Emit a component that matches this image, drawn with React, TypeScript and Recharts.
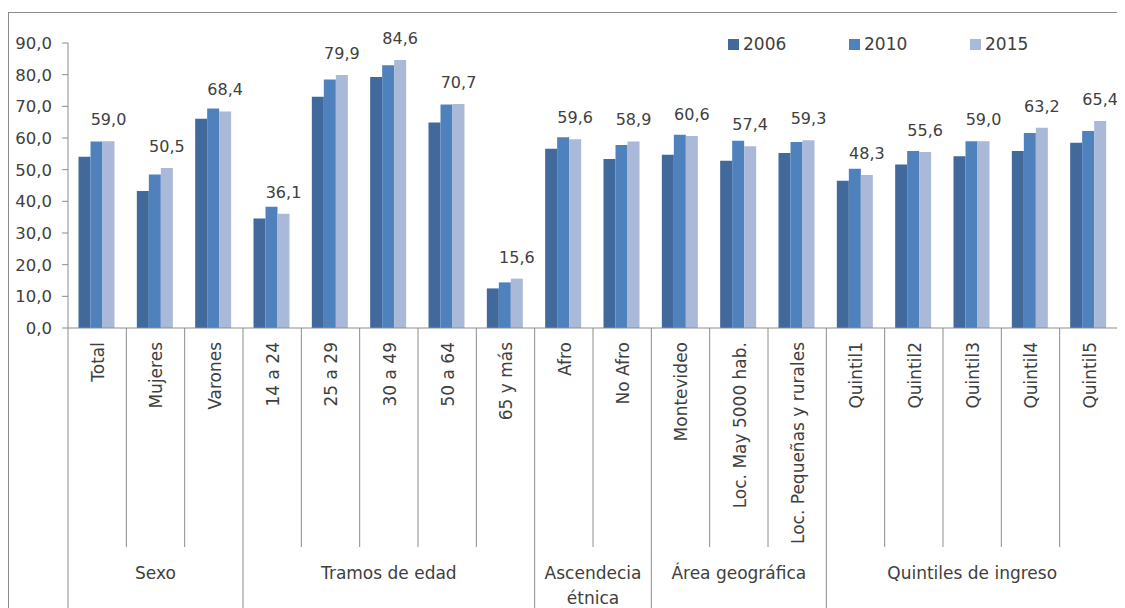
import React from 'react';
import { BarChart, Bar, XAxis, YAxis, Legend, LabelList } from 'recharts';

const categories = [
  'Total', 'Mujeres', 'Varones',
  '14 a 24', '25 a 29', '30 a 49', '50 a 64', '65 y más',
  'Afro', 'No Afro',
  'Montevideo', 'Loc. May 5000 hab.', 'Loc. Pequeñas y rurales',
  'Quintil1', 'Quintil2', 'Quintil3', 'Quintil4', 'Quintil5',
];

const groupNames = [['Sexo'], ['Tramos de edad'], ['Ascendecia', 'étnica'], ['Área geográfica'], ['Quintiles de ingreso']];
const groupSizes = [3, 5, 2, 3, 5];

const series2006 = [54.1, 43.3, 66.1, 34.6, 73.0, 79.3, 64.9, 12.5, 56.6, 53.4, 54.7, 52.8, 55.3, 46.5, 51.6, 54.2, 55.9, 58.5];
const series2010 = [58.9, 48.5, 69.3, 38.3, 78.5, 83.0, 70.6, 14.4, 60.2, 57.8, 61.0, 59.1, 58.7, 50.3, 55.9, 59.0, 61.6, 62.2];
const series2015 = [59.0, 50.5, 68.4, 36.1, 79.9, 84.6, 70.7, 15.6, 59.6, 58.9, 60.6, 57.4, 59.3, 48.3, 55.6, 59.0, 63.2, 65.4];

const yTicks = [0, 10, 20, 30, 40, 50, 60, 70, 80, 90];

const seriesInfo = [
  { key: 'y2006', name: '2006', color: '#41699C' },
  { key: 'y2010', name: '2010', color: '#4F81BD' },
  { key: 'y2015', name: '2015', color: '#A9B9D7' },
];

const data = categories.map((name, i) => ({
  name,
  y2006: series2006[i],
  y2010: series2010[i],
  y2015: series2015[i],
}));

// layout
const W = 1117;
const H = 600;
const M = { top: 35, right: 7, bottom: 0, left: 0 };
const Y_W = 60;
const X_H = 280;
const PLOT_W = W - M.left - M.right - Y_W;
const AXIS_Y = H - X_H;
const BAND = PLOT_W / categories.length;
const FONT = '"DejaVu Sans", sans-serif';
const GRAY = '#8c8c8c';
const TEXT = '#404040';

const groupStarts: number[] = [];
groupSizes.reduce((acc, n) => {
  groupStarts.push(acc);
  return acc + n;
}, 0);

const fmt = (v: number) => v.toFixed(1).replace('.', ',');

const CategoryTick = (props: any) => {
  const { x, index, payload } = props;
  const left = x - BAND / 2;
  const g = groupStarts.indexOf(index);
  const isStart = g >= 0;
  const last = index === categories.length - 1;
  return (
    <g>
      <line x1={left} y1={AXIS_Y} x2={left} y2={isStart ? H : 539} stroke={GRAY} />
      {last && <line x1={left + BAND} y1={AXIS_Y} x2={left + BAND} y2={H} stroke={GRAY} />}
      <text
        transform={`translate(${x + 1},${AXIS_Y + 14}) rotate(-90)`}
        textAnchor="end"
        dy="0.35em"
        fontFamily={FONT}
        fontSize={17}
        fill={TEXT}
      >
        {payload.value}
      </text>
      {isStart &&
        groupNames[g].map((line, k) => (
          <text
            key={k}
            x={left + (groupSizes[g] * BAND) / 2}
            y={565 + k * 25}
            textAnchor="middle"
            dy="0.35em"
            fontFamily={FONT}
            fontSize={17}
            fill={TEXT}
          >
            {line}
          </text>
        ))}
    </g>
  );
};

const LegendContent = () => (
  <div style={{ display: 'flex', fontFamily: FONT, fontSize: 17, color: TEXT }}>
    {seriesInfo.map((s) => (
      <div key={s.key} style={{ display: 'flex', alignItems: 'center', width: 121 }}>
        <span style={{ width: 11, height: 11, background: s.color, marginRight: 4, display: 'inline-block' }} />
        <span>{s.name}</span>
      </div>
    ))}
  </div>
);

export default function App() {
  return (
    <div style={{ position: 'relative', width: W, height: H, background: '#fff', overflow: 'hidden' }}>
      <style>{'html, body { overflow: hidden; }'}</style>
      <div
        style={{
          position: 'absolute',
          left: 0,
          top: 4,
          width: W + 10,
          height: H,
          borderLeft: `1px solid ${GRAY}`,
          borderTop: `1px solid ${GRAY}`,
        }}
      />
      <BarChart
        width={W}
        height={H}
        data={data}
        margin={M}
        barCategoryGap="18%"
        barGap={0}
      >
        <XAxis
          dataKey="name"
          height={X_H}
          interval={0}
          tickLine={false}
          tickSize={0}
          axisLine={{ stroke: GRAY }}
          tick={<CategoryTick />}
        />
        <YAxis
          width={Y_W}
          domain={[0, 90]}
          ticks={yTicks}
          interval={0}
          tickFormatter={fmt}
          axisLine={{ stroke: GRAY }}
          tickLine={{ stroke: GRAY }}
          tickSize={6}
          tickMargin={10}
          tick={{ fontFamily: FONT, fontSize: 16.5, fill: TEXT }}
        />
        <Legend
          layout="vertical"
          align="center"
          verticalAlign="middle"
          wrapperStyle={{ top: 26, left: 720, width: 380 }}
          content={<LegendContent />}
        />
        {seriesInfo.map((s) => (
          <Bar key={s.key} dataKey={s.key} name={s.name} fill={s.color} isAnimationActive={false}>
            {s.key === 'y2015' && (
              <LabelList
                dataKey={s.key}
                position="top"
                offset={16}
                formatter={(v: any) => fmt(Number(v))}
                style={{ fontFamily: FONT, fontSize: 16, fill: TEXT }}
              />
            )}
          </Bar>
        ))}
      </BarChart>
    </div>
  );
}
